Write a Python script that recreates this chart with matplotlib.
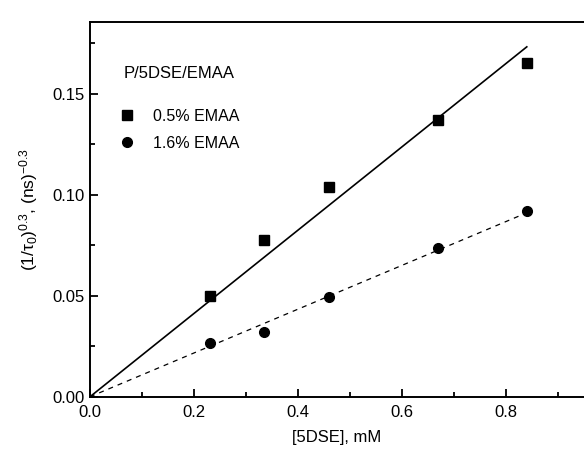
import numpy as np
import matplotlib
matplotlib.use("Agg")
import matplotlib.pyplot as plt

plt.rcParams['font.family'] = ['Liberation Sans', 'DejaVu Sans']
plt.rcParams['mathtext.fontset'] = 'custom'
plt.rcParams['mathtext.rm'] = 'Liberation Sans'
plt.rcParams['mathtext.it'] = 'Liberation Sans:italic'

# [5DSE] concentration, mM
conc = [0.23, 0.335, 0.46, 0.67, 0.84]
# (1/tau0)^0.3 for the two EMAA contents
emaa_05 = [0.050, 0.0776, 0.104, 0.137, 0.165]
emaa_16 = [0.0264, 0.0322, 0.0494, 0.0735, 0.0919]

x = np.array(conc)

def slope_origin(y):
    # least squares line forced through the origin
    y = np.array(y)
    return (x * y).sum() / (x * x).sum()

fig = plt.figure(figsize=(5.84, 4.54), dpi=100)
ax = fig.add_axes([0.154, 0.126, 0.846, 0.826])

xfit = np.array([0.0, conc[-1]])
ax.plot(xfit, slope_origin(emaa_05) * xfit, color='black', lw=1.2)
ax.plot(xfit, slope_origin(emaa_16) * xfit, color='black', lw=0.9,
        ls=(0, (4, 4)))

ax.plot(conc, emaa_05, 's', color='black', ms=6.5, label='0.5% EMAA')
ax.plot(conc, emaa_16, 'o', color='black', ms=7, label='1.6% EMAA')

ax.set_xlim(0, 0.95)
ax.set_ylim(0, 0.1856)
ax.set_xticks([0.0, 0.2, 0.4, 0.6, 0.8])
ax.set_xticks(np.arange(0.1, 0.95, 0.2), minor=True)
ax.set_yticks([0.00, 0.05, 0.10, 0.15])
ax.set_yticks([0.025, 0.075, 0.125, 0.175], minor=True)
ax.xaxis.set_major_formatter(matplotlib.ticker.FormatStrFormatter('%.1f'))
ax.yaxis.set_major_formatter(matplotlib.ticker.FormatStrFormatter('%.2f'))
ax.tick_params(which='both', direction='in', width=1.3, labelsize=12)
ax.tick_params(which='major', length=6, pad=6)
ax.tick_params(which='minor', length=3.5)
ax.tick_params(axis='y', pad=4)

for s in ['left', 'bottom', 'top']:
    ax.spines[s].set_linewidth(1.4)
ax.spines['right'].set_visible(False)

ax.set_xlabel('[5DSE], mM', fontsize=12, labelpad=7)
ax.set_ylabel('(1/τ$_0$)$^{0.3}$, (ns)$^{-0.3}$', fontsize=12.5, labelpad=9)

leg = ax.legend(loc='upper left', bbox_to_anchor=(0.03, 0.92), frameon=False,
                title='P/5DSE/EMAA', fontsize=11.5, title_fontsize=12,
                alignment='left', handletextpad=1.1, handlelength=1.0,
                labelspacing=0.75)
leg._legend_box.sep = 20
leg.get_title().set_x(4)

fig.savefig('out.png', dpi=100)
